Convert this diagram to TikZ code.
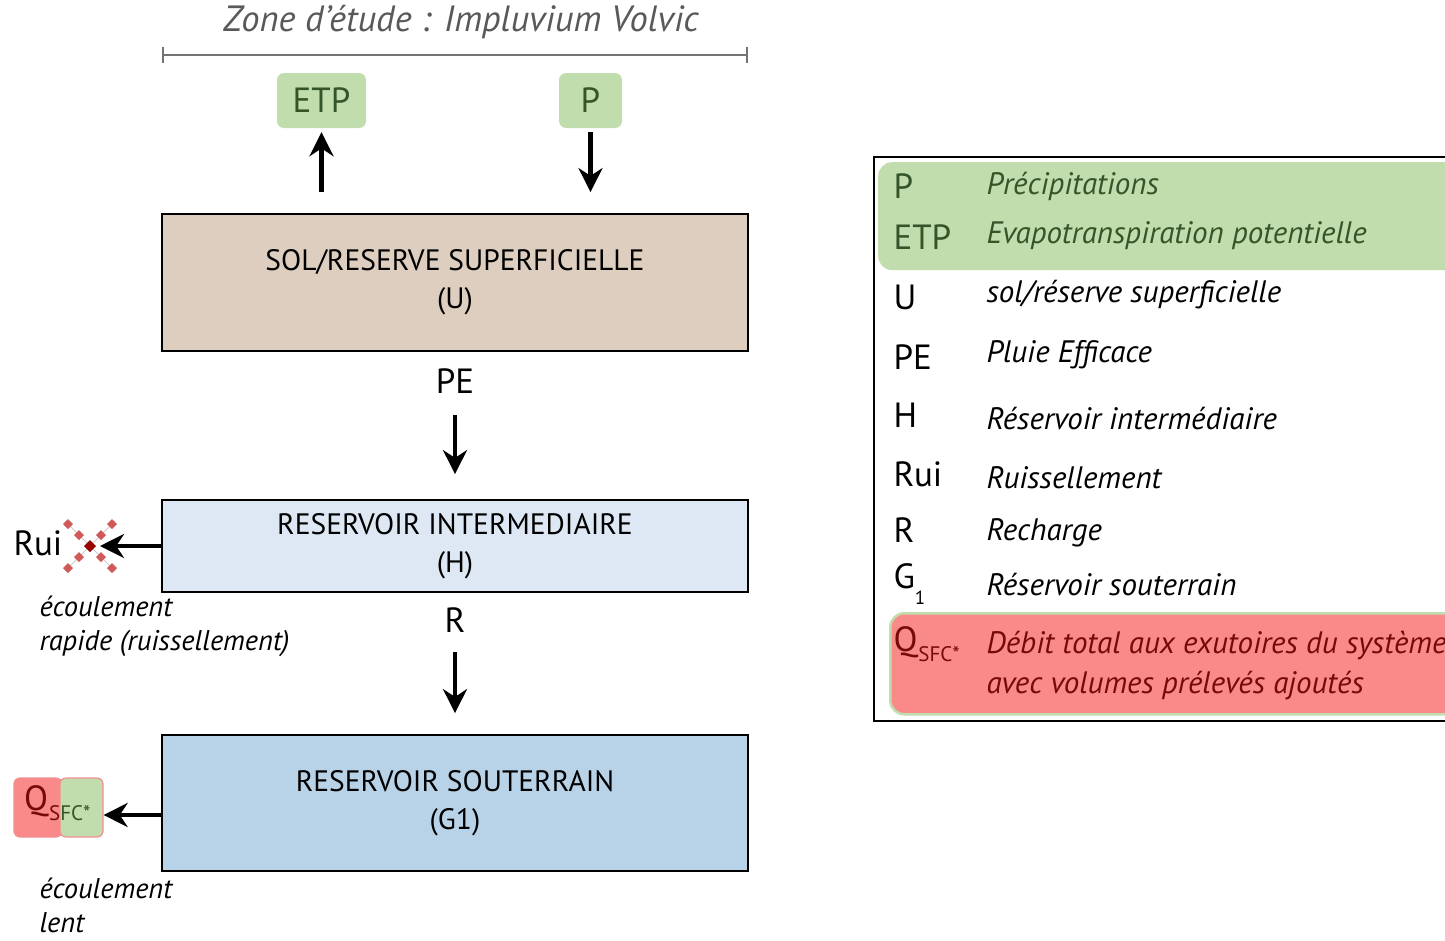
\documentclass[tikz,border=0pt]{standalone}
\usepackage{fontspec}
\setmainfont{PT Sans}
\usetikzlibrary{arrows.meta}
\definecolor{vertclair}{HTML}{C1DCAD}
\definecolor{vertfonce}{HTML}{34542A}
\definecolor{beige}{HTML}{DDCEC0}
\definecolor{bleuclair}{HTML}{DDE8F4}
\definecolor{bleu}{HTML}{B8D3E8}
\definecolor{rouge}{HTML}{FA8A8A}
\definecolor{rougefonce}{HTML}{760A0A}
\definecolor{rougetrait}{HTML}{F09090}
\definecolor{croix}{HTML}{D05A5A}
\tikzset{res/.style={draw,line width=1.8pt,minimum width=586pt,align=center,font=\fontsize{29.5}{38}\selectfont},
 entree/.style={fill=vertclair,rounded corners=7pt,minimum height=55pt,text=vertfonce,font=\fontsize{35}{38}\selectfont},
 fl/.style={-{Stealth[length=24pt,width=24pt]},line width=4.2pt},
 lbl/.style={font=\fontsize{35}{38}\selectfont},
 note/.style={align=left,anchor=north west,font=\fontsize{28.5}{34}\selectfont\itshape},
 abr/.style={anchor=west,font=\fontsize{35}{38}\selectfont},
 desc/.style={anchor=west,align=left,font=\fontsize{31}{40}\selectfont\itshape},
 losange/.style={fill=croix}}
\newcommand{\Qsfc}[1]{Q\kern1pt\raisebox{-0.3em}{\fontsize{#1}{#1}\selectfont SFC*}}

\begin{document}
\begin{tikzpicture}[x=1pt,y=-1pt]
\useasboundingbox (0,0) rectangle (1445,940);
\clip (0,0) rectangle (1445,940);
% zone d'etude
\node[text=black!65,font=\fontsize{36.5}{40}\selectfont\itshape] (zone) at (461,22) {Zone d'étude : Impluvium Volvic};
\coordinate (zg) at (162,55);\coordinate (zd) at (748,55);
\draw[black!55,line width=2pt,{Bar[width=16pt]}-{Bar[width=16pt]}] (zg) -- (zd);
\node[entree,minimum width=89pt] (etp) at (321.5,100.5) {ETP};
\node[entree,minimum width=63pt] (p) at (590.5,100.5) {P};
% reservoirs
\node[res,fill=beige,minimum height=137pt] (sol) at (455,282.5) {SOL/RESERVE SUPERFICIELLE\\(U)};
\node[res,fill=bleuclair,minimum height=92pt] (inter) at (455,546) {RESERVOIR INTERMEDIAIRE\\(H)};
\node[res,fill=bleu,minimum height=136pt] (sout) at (455,803) {RESERVOIR SOUTERRAIN\\(G1)};
\node[lbl] (pe) at (455,381) {PE};
\node[lbl] (r) at (455,620) {R};
\draw[fl,shorten <=21pt,shorten >=4pt] (sol.north -| etp) -- (etp.south);
\draw[fl,shorten <=4pt,shorten >=21pt] (p.south) -- (sol.north -| p);
\draw[fl,shorten <=18pt,shorten >=25pt] (pe) -- (inter);
\draw[fl,shorten <=16pt,shorten >=21pt] (r) -- (sout);
% ruissellement barre
\coordinate (ruix) at (90,546);
\draw[black!20,line width=1pt] ([shift={(-25,-25)}]ruix) -- ([shift={(25,25)}]ruix) ([shift={(-25,25)}]ruix) -- ([shift={(25,-25)}]ruix);
\foreach \dx/\dy in {-22/-22,-11/-11,11/11,22/22,-22/22,-11/11,11/-11,22/-22}
  \fill[losange] ([shift={(\dx,\dy-5)}]ruix) -- ++(5,5) -- ++(-5,5) -- ++(-5,-5) -- cycle;
\fill[red!60!black] ([shift={(0,-6)}]ruix) -- ++(6,6) -- ++(-6,6) -- ++(-6,-6) -- cycle;
\draw[fl,shorten >=10pt] (inter.west) -- (ruix);
\node[lbl] (rui) at (38,543) {Rui};
\node[note] (rapide) at (36,592) {écoulement\\rapide (ruissellement)};
% debit aux exutoires
\node[fill=rouge,draw=rougetrait,line width=1.2pt,rounded corners=6pt,minimum width=48pt,minimum height=59pt] (qrouge) at (38,807.5) {};
\node[fill=vertclair,draw=rougetrait,line width=1.2pt,rounded corners=6pt,minimum width=43pt,minimum height=59pt] (qvert) at (81.5,807.5) {};
\node[anchor=west,inner sep=0pt,font=\fontsize{35}{38}\selectfont] (qtxt) at (24,803) {\textcolor{rougefonce}{Q}\kern1pt\raisebox{-0.3em}{\fontsize{21}{21}\selectfont\textcolor{rougefonce}{S}\textcolor{vertfonce}{FC*}}};
\draw[fl] ([yshift=-12pt]sout.west) -- ([yshift=-12pt]sout.west -| qvert.east);
\node[note] (lent) at (36,874) {écoulement\\lent};
% legende
\node[draw,line width=2.2pt,minimum width=600pt,minimum height=564pt,anchor=north west] (legende) at (873,156) {};
\node[fill=vertclair,rounded corners=14pt,minimum width=600pt,minimum height=108pt,anchor=north west] (lvert) at (878,162) {};
\node[fill=rouge,draw=vertclair,line width=2.5pt,rounded corners=14pt,minimum width=600pt,minimum height=101pt,anchor=north west] (lrouge) at (889,612) {};
\node[abr,text=vertfonce] at (890,186) {P};
\node[desc,text=vertfonce] at (983,186) {Précipitations};
\node[abr,text=vertfonce] at (890,237) {ETP};
\node[desc,text=vertfonce] at (983,236) {Evapotranspiration potentielle};
\node[abr] at (890,297) {U};
\node[desc] at (983,295) {sol/réserve superficielle};
\node[abr] at (890,357) {PE};
\node[desc] at (983,355) {Pluie Efficace};
\node[abr] at (890,415) {H};
\node[desc] at (983,419) {Réservoir intermédiaire};
\node[abr] at (890,474) {Rui};
\node[desc] at (983,478) {Ruissellement};
\node[abr] at (890,530) {R};
\node[desc] at (983,533) {Recharge};
\node[abr] at (890,584) {G\raisebox{-0.45em}{\fontsize{19}{19}\selectfont 1}};
\node[desc] at (983,585) {Réservoir souterrain};
\node[abr,text=rougefonce] at (890,644) {\Qsfc{21}};
\node[desc,text=rougefonce] at (983,666) {Débit total aux exutoires du système\\avec volumes prélevés ajoutés};
\end{tikzpicture}
\end{document}
